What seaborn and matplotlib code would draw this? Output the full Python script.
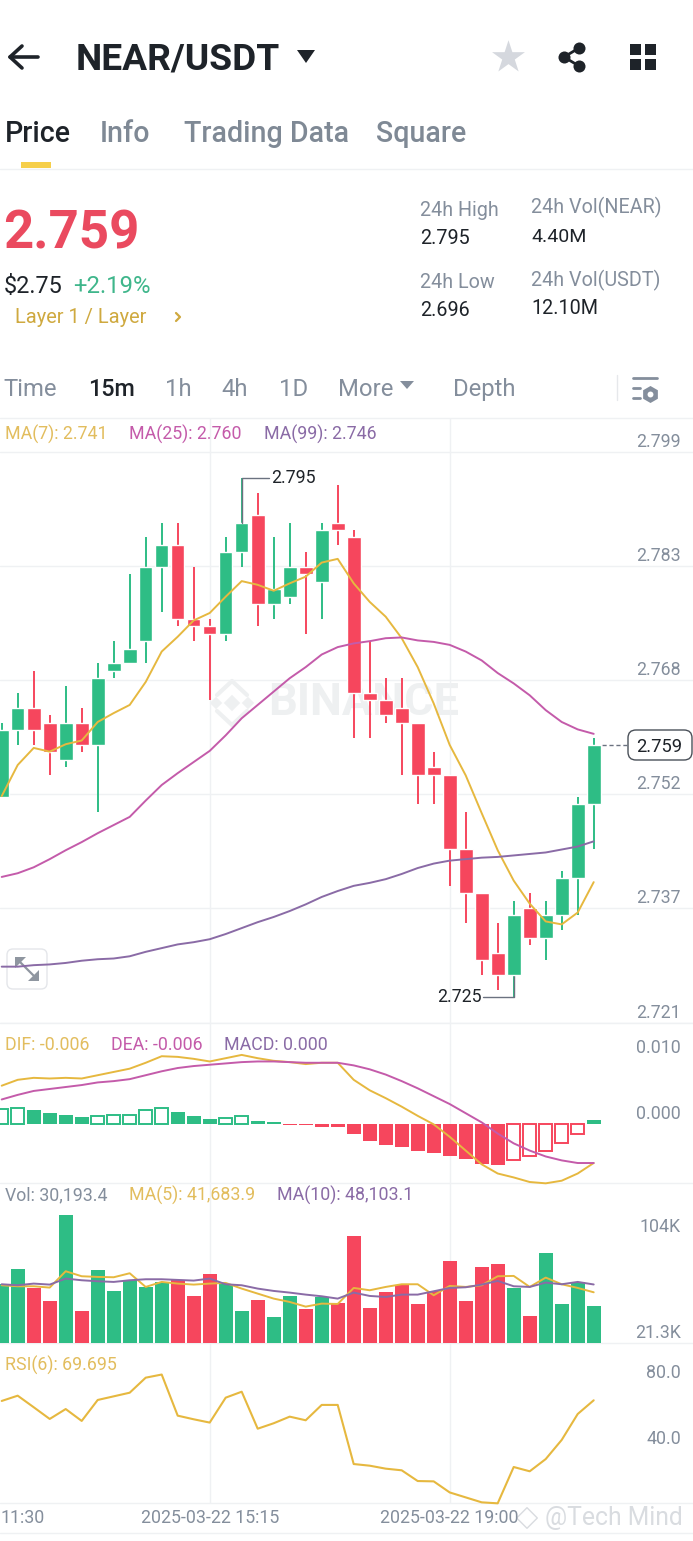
import numpy as np
import pandas as pd
import matplotlib
matplotlib.use("Agg")
import matplotlib.pyplot as plt
from matplotlib.patches import FancyBboxPatch, Polygon
import seaborn as sns

# candles
opens = [2.752, 2.761, 2.764, 2.762, 2.757, 2.762, 2.759, 2.769, 2.770, 2.773, 2.783, 2.786, 2.776,
         2.775, 2.774, 2.785, 2.790, 2.778, 2.779, 2.783, 2.781, 2.789, 2.787, 2.766, 2.765, 2.764,
         2.762, 2.756, 2.755, 2.745, 2.739, 2.731, 2.728, 2.737, 2.733, 2.736, 2.741, 2.751]
closes = [2.761, 2.764, 2.761, 2.758, 2.762, 2.759, 2.768, 2.770, 2.772, 2.783, 2.786, 2.776, 2.775,
          2.774, 2.785, 2.789, 2.778, 2.780, 2.783, 2.782, 2.788, 2.788, 2.766, 2.765, 2.763, 2.762,
          2.755, 2.755, 2.745, 2.739, 2.730, 2.728, 2.736, 2.733, 2.736, 2.741, 2.751, 2.759]
highs = [2.762, 2.766, 2.769, 2.763, 2.767, 2.764, 2.770, 2.773, 2.782, 2.787, 2.789, 2.789, 2.783,
         2.776, 2.787, 2.795, 2.793, 2.787, 2.789, 2.785, 2.789, 2.794, 2.788, 2.773, 2.768, 2.768,
         2.762, 2.758, 2.755, 2.750, 2.739, 2.735, 2.738, 2.739, 2.738, 2.742, 2.752, 2.760]
lows = [2.752, 2.759, 2.759, 2.755, 2.756, 2.758, 2.750, 2.768, 2.770, 2.770, 2.777, 2.775, 2.773,
        2.765, 2.773, 2.783, 2.775, 2.776, 2.778, 2.774, 2.776, 2.786, 2.760, 2.760, 2.762, 2.755,
        2.751, 2.751, 2.740, 2.735, 2.728, 2.726, 2.725, 2.732, 2.730, 2.734, 2.736, 2.745]
ma7 = [2.7521, 2.7563, 2.7586, 2.7581, 2.7591, 2.7596, 2.7621, 2.7633, 2.7644, 2.7675, 2.7716, 2.7736,
       2.7758, 2.7768, 2.7790, 2.7811, 2.7806, 2.7798, 2.7808, 2.7817, 2.7836, 2.7841, 2.7808, 2.7783,
       2.7763, 2.7734, 2.7695, 2.7646, 2.7590, 2.7549, 2.7498, 2.7448, 2.7407, 2.7376, 2.7352, 2.7348,
       2.7364, 2.7405]
ma25 = [2.7412, 2.7417, 2.7425, 2.7436, 2.7448, 2.7459, 2.7471, 2.7482, 2.7493, 2.7515, 2.7536, 2.7552,
        2.7567, 2.7582, 2.7603, 2.7626, 2.7644, 2.7662, 2.7680, 2.7695, 2.7712, 2.7722, 2.7727, 2.7730,
        2.7734, 2.7735, 2.7731, 2.7729, 2.7725, 2.7716, 2.7704, 2.7687, 2.7673, 2.7657, 2.7637, 2.7621,
        2.7611, 2.7605]
ma99 = [2.7291, 2.7291, 2.7293, 2.7294, 2.7296, 2.7299, 2.7301, 2.7302, 2.7305, 2.7311, 2.7316, 2.7321,
        2.7324, 2.7328, 2.7335, 2.7343, 2.7351, 2.7358, 2.7366, 2.7375, 2.7385, 2.7393, 2.7400, 2.7404,
        2.7409, 2.7416, 2.7424, 2.7430, 2.7434, 2.7436, 2.7438, 2.7439, 2.7441, 2.7443, 2.7445, 2.7449,
        2.7453, 2.7460]

# MACD pane
dif = [.0058, .0067, .0070, .0069, .0070, .0069, .0074, .0079, .0084, .0093, .0103, .0102, .0099, .0095,
       .0100, .0105, .0100, .0096, .0094, .0091, .0093, .0093, .0067, .0051, .0039, .0026, .0012, -.0001,
       -.0020, -.0041, -.0062, -.0076, -.0082, -.0089, -.0091, -.0087, -.0076, -.0060]
dea = [.0037, .0044, .0050, .0053, .0056, .0059, .0063, .0065, .0068, .0074, .0080, .0085, .0088, .0090,
       .0092, .0094, .0095, .0095, .0094, .0093, .0093, .0093, .0089, .0083, .0075, .0065, .0054, .0042,
       .0030, .0016, .0002, -.0015, -.0030, -.0041, -.0050, -.0056, -.0060, -.0060]
macd = [.0022, .0024, .0021, .0017, .0014, .0010, .0012, .0013, .0014, .0021, .0024, .0018, .0012, .0007,
        .0009, .0011, .0004, .0002, -.0002, -.0002, -.0005, -.0005, -.0016, -.0026, -.0033, -.0036, -.0042,
        -.0044, -.0049, -.0054, -.0061, -.0063, -.0055, -.0049, -.0041, -.0030, -.0015, .0005]

# volume pane
vol = [48277, 60895, 45260, 34288, 105057, 26607, 59797, 42517, 52117, 46082, 50197, 52117, 38676, 56506,
       48825, 26059, 35110, 21121, 38402, 27979, 37853, 32642, 87776, 29076, 41968, 47454, 31819, 42517,
       67478, 34288, 62540, 65009, 44985, 22218, 74061, 32367, 50197, 30193]
vol_ma5 = [47454, 46631, 46631, 45534, 58975, 54860, 54311, 54037, 57329, 46082, 50197, 48825, 48003,
           48825, 49374, 44711, 40596, 36482, 33739, 29899, 32367, 32093, 45260, 43339, 46082, 48277,
           48277, 39225, 46905, 46082, 47454, 54860, 55134, 46082, 53763, 48277, 45260, 41684]
vol_ma10 = [48277, 47454, 48825, 48003, 52940, 51568, 50746, 50197, 51568, 52391, 52391, 51843, 51294,
            52940, 48277, 47454, 44711, 42791, 41419, 39774, 38402, 36482, 41419, 38676, 37853, 39774,
            39774, 42517, 45260, 45808, 48003, 51020, 46631, 46082, 49648, 48277, 50197, 48103]

# RSI pane
rsi6 = [69.3, 72.5, 65.5, 58.4, 64.4, 57.2, 69.9, 72.1, 74.3, 83.4, 85.3, 60.4, 58.2, 56.2, 71.3, 74.9,
        52.5, 55.8, 59.8, 57.6, 66.9, 66.9, 31.1, 30.1, 28.3, 27.3, 20.8, 20.6, 13.9, 10.9, 7.9, 7.3,
        29.3, 26.7, 34.1, 45.7, 61.4, 69.7]

price_ticks = [2.7985, 2.7831, 2.7677, 2.7524, 2.7370, 2.7215]
price_labels = ["2.799", "2.783", "2.768", "2.752", "2.737", "2.721"]
macd_ticks = [0.010, 0.000]
rsi_ticks = [80.0, 40.0]
time_ticks = [13, 28]
time_labels = ["2025-03-22 15:15", "2025-03-22 19:00"]

GREEN = "#2EBD85"
RED = "#F6465D"
YELLOW = "#E6B83F"
PINK = "#C45BAA"
PURPLE = "#8A6BA6"
GRAY = "#848E9C"
DARK = "#1E2329"
LINE = "#EFF1F3"
CHART_FONT = 12.8
W, H = 693, 1541

sns.set_style("white")
plt.rcParams["font.family"] = ["Roboto", "DejaVu Sans"]

fig = plt.figure(figsize=(W / 100, H / 100), dpi=100, facecolor="white")

# overlay in pixel coordinates for the app chrome
ov = fig.add_axes([0, 0, 1, 1], zorder=0)
ov.set_xlim(0, W)
ov.set_ylim(H, 0)
ov.axis("off")


def pane(top, bottom, ylim):
    ax = fig.add_axes([0, 1 - bottom / H, 1, (bottom - top) / H], zorder=2)
    ax.patch.set_alpha(0)
    ax.set_ylim(*ylim)
    sns.despine(ax=ax, left=True, bottom=True)
    return ax


def finish(ax):
    ax.set_xlim(-1.7 / 16, (W - 1.7) / 16)
    ax.set_xlabel("")
    ax.set_ylabel("")
    ax.set_xticks([])
    ax.tick_params(left=False, right=False, labelleft=False)
    for i in time_ticks:
        ax.axvline(i, color=LINE, lw=1, zorder=0)


def tick_text(ax, value, text):
    ax.annotate(text, xy=(1, value), xycoords=ax.get_yaxis_transform(), xytext=(-12, 10),
                textcoords="offset pixels", ha="right", va="center", color=GRAY, fontsize=CHART_FONT)


def label(x, y, s, size=CHART_FONT, color=GRAY, weight="normal", ha="left"):
    ov.text(x, y + 1.5, s, fontsize=size, color=color, fontweight=weight, ha=ha, va="center")


idx = np.arange(len(opens))
up = np.array(closes) >= np.array(opens)
colors = [GREEN if u else RED for u in up]

# price pane
ax1 = pane(418, 1023, (2.7215, 2.8031))
ax1.set_yticks(price_ticks)
ax1.grid(axis="y", color=LINE, lw=1)
ax1.set_axisbelow(True)
ax1.vlines(idx, lows, highs, colors=colors, lw=1.4, zorder=2)
ax1.bar(idx, np.abs(np.array(closes) - np.array(opens)), bottom=np.minimum(opens, closes),
        width=0.85, color=colors, zorder=3)
sns.lineplot(x=idx, y=ma7, ax=ax1, color=YELLOW, lw=1.4, zorder=4)
sns.lineplot(x=idx, y=ma25, ax=ax1, color=PINK, lw=1.4, zorder=4)
sns.lineplot(x=idx, y=ma99, ax=ax1, color=PURPLE, lw=1.4, zorder=4)
finish(ax1)
ax1.tick_params(labelleft=False)
for t, s in zip(price_ticks, price_labels):
    tick_text(ax1, t, s)

# high / low markers and last price
ax1.plot([15, 15, 16.7], [2.789, 2.795, 2.795], color="#6B7280", lw=1, zorder=5)
ax1.text(16.85, 2.795, "2.795", color=DARK, fontsize=CHART_FONT, va="center", ha="left")
ax1.plot([32, 32, 30.1], [2.728, 2.725, 2.725], color="#6B7280", lw=1, zorder=2)
ax1.text(30.02, 2.725, "2.725", color=DARK, fontsize=CHART_FONT, va="center", ha="right")
ax1.plot([37.5, 39.2], [2.759, 2.759], color="#6B7280", lw=1, ls=(0, (3, 2)))
ov.add_patch(FancyBboxPatch((631, 733), 58, 24, boxstyle="round,pad=3,rounding_size=8",
                            fc="white", ec="#4A5059", lw=1, zorder=5))
ax1.text(659.5 / 16 - 0.1, 2.7587, "2.759", color=DARK, fontsize=13.2, ha="center", va="center")

# MACD pane
ax2 = pane(1023, 1183, (-0.00905, 0.01537))
df_macd = pd.DataFrame({"idx": idx, "macd": macd})
df_macd["sign"] = np.where(df_macd["macd"] >= 0, "up", "down")
rising = df_macd["macd"].diff().fillna(1) > 0
rising[len(macd) - 1] = False
pal = {"up": GREEN, "down": RED}
sns.barplot(data=df_macd[~rising], x="idx", y="macd", hue="sign", palette=pal, native_scale=True, width=0.85,
            dodge=False, legend=False, saturation=1, linewidth=0, ax=ax2)
sns.barplot(data=df_macd[rising], x="idx", y="macd", hue="sign", palette=pal, native_scale=True, width=0.8,
            dodge=False, legend=False, saturation=1, fill=False, linewidth=1.4, ax=ax2)
sns.lineplot(x=idx, y=dif, ax=ax2, color=YELLOW, lw=1.4, zorder=4, clip_on=False)
sns.lineplot(x=idx, y=dea, ax=ax2, color=PINK, lw=1.4, zorder=4)
finish(ax2)
for t in macd_ticks:
    tick_text(ax2, t, f"{t:.3f}")

# volume pane
ax3 = pane(1183, 1343, (0, 131500))
df_vol = pd.DataFrame({"idx": idx, "vol": vol, "dir": ["up" if u else "down" for u in up]})
sns.barplot(data=df_vol, x="idx", y="vol", hue="dir", palette=pal, native_scale=True, width=0.85,
            dodge=False, legend=False, saturation=1, linewidth=0, ax=ax3)
sns.lineplot(x=idx, y=vol_ma5, ax=ax3, color=YELLOW, lw=1.4, zorder=4)
sns.lineplot(x=idx, y=vol_ma10, ax=ax3, color=PURPLE, lw=1.4, zorder=4)
finish(ax3)

# RSI pane
ax4 = pane(1343, 1503, (7.5, 104.4))
sns.lineplot(x=idx, y=rsi6, ax=ax4, color=YELLOW, lw=1.5, clip_on=False)
finish(ax4)
for t in rsi_ticks:
    tick_text(ax4, t, f"{t:.1f}")
for pos, txt in zip(time_ticks, time_labels):
    ax4.annotate(txt, xy=(pos, 0), xycoords=ax4.get_xaxis_transform(), xytext=(0, -15),
                 textcoords="offset pixels", ha="center", va="center", color=GRAY, fontsize=CHART_FONT)
label(1, 1516.5, "11:30")

# separators
for y in [169, 418, 1023, 1183, 1343, 1503, 1533]:
    ov.plot([0, W], [y, y], color=LINE, lw=1)
ov.plot([617, 617], [375, 400], color="#E6E8EB", lw=1)

# binance watermark behind the candles
ov.text(268, 703, "BINANCE", fontsize=32.5, fontweight="bold", color="#EEF0F1", va="center")
ov.scatter([232, 216, 248], [703, 703, 703], marker="D", s=[70, 40, 40], color="#EEF0F1", lw=0)
ov.plot([217, 232, 247], [695, 681, 695], color="#EEF0F1", lw=3)
ov.plot([217, 232, 247], [711, 725, 711], color="#EEF0F1", lw=3)

# expand icon
ov.add_patch(FancyBboxPatch((8, 950), 38, 38, boxstyle="round,pad=1,rounding_size=6", fc="none", ec="#E4E6EA", lw=1))
ov.add_patch(Polygon([[15, 957], [26, 957], [15, 968]], fc="#8F96A0", ec="none"))
ov.add_patch(Polygon([[39, 981], [28, 981], [39, 970]], fc="#8F96A0", ec="none"))
ov.plot([18, 36], [960, 978], color="#8F96A0", lw=1.6)

# pane legends
label(5, 433, "MA(7): 2.741", color="#E2BD5E")
label(129, 433, "MA(25): 2.760", color=PINK)
label(264, 433, "MA(99): 2.746", color=PURPLE)
label(5, 1044, "DIF: -0.006", color="#E2BD5E")
label(111, 1044, "DEA: -0.006", color=PINK)
label(224, 1044, "MACD: 0.000", color=PURPLE)
label(5, 1194, "Vol: 30,193.4")
label(129, 1194, "MA(5): 41,683.9", color="#E2BD5E")
label(277, 1194, "MA(10): 48,103.1", color=PURPLE)
label(5, 1364, "RSI(6): 69.695", color="#E2BD5E")
label(681, 1225, "104K", ha="right")
label(681, 1331, "21.3K", ha="right")

# header
ov.plot([22, 10, 22], [46, 57, 68], color=DARK, lw=2.6)
ov.plot([10, 38], [57, 57], color=DARK, lw=2.6)
label(76, 58, "NEAR/USDT", size=26.7, color=DARK, weight="bold")
ov.add_patch(Polygon([[297, 50], [315, 50], [306, 63]], fc=DARK, ec="none"))
ov.scatter([508], [57], marker="*", s=620, color="#D5D8DE", lw=0)
ov.plot([579, 564, 579], [48, 57, 66], color=DARK, lw=2)
ov.scatter([564, 579, 579], [57, 48, 66], s=75, color=DARK, lw=0)
for gx in [630, 645]:
    for gy in [44, 59]:
        ov.add_patch(plt.Rectangle((gx, gy), 11, 11, fc=DARK, ec="none"))

# tabs
label(5, 132, "Price", size=20.6, color=DARK, weight="medium")
label(100, 132, "Info", size=20.6, color="#7F8995", weight="medium")
label(184, 132, "Trading Data", size=20.6, color="#7F8995", weight="medium")
label(376, 132, "Square", size=20.6, color="#7F8995", weight="medium")
ov.add_patch(plt.Rectangle((21, 162), 30, 6, fc="#F6CF4A", ec="none"))

# ticker block
label(3, 232, "2.759", size=38, color="#EA4A5F", weight="bold")
label(4, 285, "$2.75", size=16.8, color=DARK)
label(73, 285, "+2.19%", size=17.2, color="#3FB68B")
label(15, 316, "Layer 1 / Layer", size=14.4, color="#CFA93F")
ov.plot([176, 180, 176], [313, 317, 321], color="#CFA93F", lw=1.6)
label(420, 209, "24h High", size=14.2)
label(420, 237, "2.795", size=14.2, color=DARK)
label(531, 206, "24h Vol(NEAR)", size=14.2)
label(531, 235, "4.40M", size=14, color=DARK)
label(420, 281, "24h Low", size=14.2)
label(420, 309, "2.696", size=14.2, color=DARK)
label(531, 279, "24h Vol(USDT)", size=14.2)
label(531, 307, "12.10M", size=14.2, color=DARK)

# interval bar
label(3, 388, "Time", size=17.2)
label(88, 388, "15m", size=16.8, color=DARK, weight="medium")
label(165, 388, "1h", size=17.2)
label(221, 388, "4h", size=17.2)
label(279, 388, "1D", size=17.2)
label(338, 388, "More", size=17.2)
ov.add_patch(Polygon([[400, 381], [414, 381], [407, 389]], fc=GRAY, ec="none"))
label(453, 388, "Depth", size=17.2)
ov.plot([633, 657], [378, 378], color=GRAY, lw=2)
ov.plot([633, 640], [388, 388], color=GRAY, lw=2)
ov.plot([633, 640], [398, 398], color=GRAY, lw=2)
ov.scatter([650], [394], marker="h", s=150, color=GRAY, lw=0)
ov.scatter([650], [394], marker="o", s=18, color="white", lw=0)

# third party watermark
fig.text(545 / W, 1 - 1518 / H, "@Tech Mind", fontsize=17.8, color="#D9DCE0", va="center", zorder=6)
ov.scatter([527], [1518], marker="D", s=110, facecolor="none", edgecolor="#D9DCE0", lw=1, zorder=6)

fig.savefig("out.png", dpi=100)
